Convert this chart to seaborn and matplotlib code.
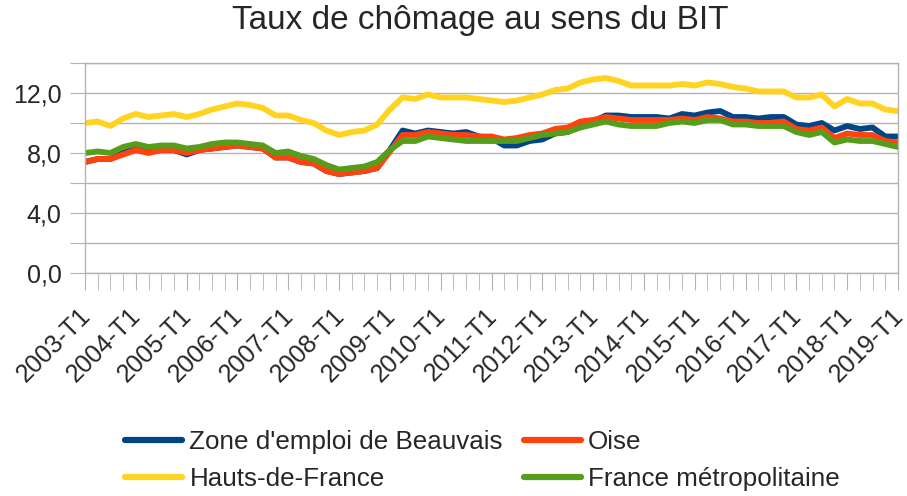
import seaborn as sns
import matplotlib.pyplot as plt
import matplotlib.transforms as mtransforms
import pandas as pd
from matplotlib.ticker import FuncFormatter, MultipleLocator

# Quarters 2003-T1 .. 2019-T1
quarters = [f"{y}-T{q}" for y in range(2003, 2020) for q in range(1, 5)][:65]

beauvais = [7.4, 7.6, 7.6, 8.0, 8.3, 8.1, 8.2, 8.2, 7.9, 8.2, 8.3, 8.4, 8.5, 8.4, 8.3, 7.7,
            7.7, 7.4, 7.3, 6.8, 6.6, 6.7, 6.8, 7.0, 8.2, 9.5, 9.3, 9.5, 9.4, 9.3, 9.4, 9.1,
            9.0, 8.5, 8.5, 8.8, 8.9, 9.3, 9.4, 9.9, 10.1, 10.5, 10.5, 10.4, 10.4, 10.4, 10.3, 10.6,
            10.5, 10.7, 10.8, 10.4, 10.4, 10.3, 10.4, 10.4, 9.9, 9.8, 10.0, 9.5, 9.8, 9.6, 9.7, 9.1,
            9.1]
oise = [7.4, 7.6, 7.6, 7.9, 8.2, 8.0, 8.2, 8.2, 8.0, 8.2, 8.3, 8.4, 8.5, 8.4, 8.3, 7.7,
        7.7, 7.4, 7.3, 6.8, 6.6, 6.7, 6.8, 7.0, 8.1, 9.2, 9.2, 9.4, 9.3, 9.2, 9.2, 9.1,
        9.1, 8.9, 9.0, 9.2, 9.3, 9.6, 9.7, 10.1, 10.2, 10.4, 10.3, 10.2, 10.2, 10.2, 10.2, 10.3,
        10.2, 10.4, 10.3, 10.1, 10.1, 10.0, 10.0, 10.1, 9.6, 9.5, 9.7, 9.0, 9.3, 9.2, 9.2, 8.8,
        8.7]
hauts_de_france = [10.0, 10.1, 9.8, 10.3, 10.6, 10.4, 10.5, 10.6, 10.4, 10.6, 10.9, 11.1, 11.3, 11.2, 11.0, 10.5,
                   10.5, 10.2, 10.0, 9.5, 9.2, 9.4, 9.5, 9.9, 10.9, 11.7, 11.6, 11.9, 11.7, 11.7, 11.7, 11.6,
                   11.5, 11.4, 11.5, 11.7, 11.9, 12.2, 12.3, 12.7, 12.9, 13.0, 12.8, 12.5, 12.5, 12.5, 12.5, 12.6,
                   12.5, 12.7, 12.6, 12.4, 12.3, 12.1, 12.1, 12.1, 11.7, 11.7, 11.9, 11.1, 11.6, 11.3, 11.3, 10.9,
                   10.8]
france_metro = [8.0, 8.1, 8.0, 8.4, 8.6, 8.4, 8.5, 8.5, 8.3, 8.4, 8.6, 8.7, 8.7, 8.6, 8.5, 8.0,
                8.1, 7.8, 7.6, 7.2, 6.9, 7.0, 7.1, 7.4, 8.2, 8.8, 8.8, 9.1, 9.0, 8.9, 8.8, 8.8,
                8.8, 8.8, 8.8, 9.0, 9.2, 9.3, 9.4, 9.7, 9.9, 10.1, 9.9, 9.8, 9.8, 9.8, 10.0, 10.1,
                10.0, 10.2, 10.2, 9.9, 9.9, 9.8, 9.8, 9.8, 9.4, 9.2, 9.4, 8.7, 8.9, 8.8, 8.8, 8.6,
                8.4]

series_names = ["Zone d'emploi de Beauvais", "Oise", "Hauts-de-France", "France métropolitaine"]
colors = ["#004586", "#ff420e", "#ffd320", "#579d1c"]

frames = []
for name, vals in zip(series_names, [beauvais, oise, hauts_de_france, france_metro]):
    frames.append(pd.DataFrame({"idx": range(len(quarters)), "taux": vals, "serie": name}))
df = pd.concat(frames, ignore_index=True)

sns.set_style("white")
plt.rcParams['font.family'] = ['Liberation Sans', 'DejaVu Sans']

fig = plt.figure(figsize=(9.07, 4.96), dpi=100)
ax = fig.add_axes([85 / 907, (496 - 273) / 496, (898 - 85) / 907, (273 - 63) / 496])

sns.lineplot(data=df, x="idx", y="taux", hue="serie", hue_order=series_names,
             palette=colors, linewidth=4.2, ax=ax, legend=True)

ax.set_xlim(0, len(quarters) - 1)
ax.set_ylim(0, 14)
ax.yaxis.set_major_locator(MultipleLocator(2))
ax.yaxis.set_major_formatter(FuncFormatter(
    lambda v, p: f"{v:.1f}".replace(".", ",") if round(v) % 4 == 0 else ""))
ax.grid(axis="y", color="#b3b3b3", linewidth=1)
ax.set_axisbelow(True)

ax.set_xticks(range(len(quarters)), minor=True)
ax.set_xticks(range(0, len(quarters), 4))
ax.set_xticklabels(quarters[::4], rotation=45, ha="right", va="top", rotation_mode="anchor")
ax.tick_params(axis="x", which="both", length=12, color="#b3b3b3", bottom=True, labelsize=18, pad=10)
ax.tick_params(axis="y", length=11, color="#b3b3b3", left=True, labelsize=18, pad=6)

# nudge the rotated labels a bit to the left
shift = mtransforms.ScaledTranslation(-7 / 100, 0, fig.dpi_scale_trans)
for lab in ax.get_xticklabels():
    lab.set_transform(lab.get_transform() + shift)

for s in ax.spines.values():
    s.set_color("#b3b3b3")
    s.set_linewidth(1)

ax.set_xlabel("")
ax.set_ylabel("")
fig.suptitle("Taux de chômage au sens du BIT", x=0.529, y=0.99, fontsize=24)

# legend filled column by column -> reorder so rows read Beauvais/Oise, Hauts/France
handles, labels = ax.get_legend_handles_labels()
order = [0, 2, 1, 3]
ax.legend([handles[i] for i in order], [labels[i] for i in order],
          loc="upper left", bbox_to_anchor=(125 / 907, (496 - 430) / 496),
          bbox_transform=fig.transFigure, ncol=2, frameon=False, fontsize=18.7,
          handlelength=2.2, handletextpad=0.28, columnspacing=0.8, labelspacing=0.5,
          borderaxespad=0, borderpad=0)
for line in ax.get_legend().get_lines():
    line.set_linewidth(4.5)

fig.savefig("out.png", dpi=100)
